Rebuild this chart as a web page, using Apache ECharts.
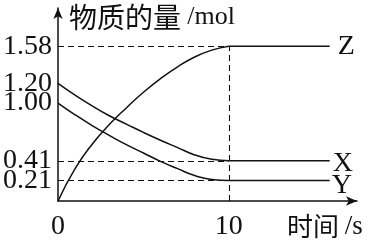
<!DOCTYPE html>
<html>
<head>
<meta charset="utf-8">
<script src="https://cdn.jsdelivr.net/npm/echarts@6/dist/echarts.min.js"></script>
<style>html,body{margin:0;padding:0;background:#fff}#c{width:368px;height:241px}</style>
</head>
<body>
<div id="c"></div>
<script>
// time (s) sample points during the reaction
var times = [0, 1, 2, 3, 4, 5, 6, 7, 8, 9, 10];
var zValues = [0, 0.33, 0.58, 0.78, 0.95, 1.11, 1.25, 1.37, 1.47, 1.54, 1.58];
var xValues = [1.20, 1.08, 0.97, 0.87, 0.785, 0.70, 0.62, 0.545, 0.47, 0.425, 0.41];
var yValues = [1.00, 0.88, 0.77, 0.67, 0.575, 0.49, 0.405, 0.33, 0.26, 0.22, 0.21];
// equilibrium segment (constant amounts)
var plateauTimes = [10, 15.9];
var yTickLabels = [0.21, 0.41, 1.00, 1.20, 1.58];
var xTickLabels = [0, 10];
var endTime = 10;

function pairs(ts, vals){ return ts.map(function(t,i){ return [t, vals[i]]; }); }

var ink = '#111';
var serif = 'Liberation Serif';
var cjk = 'Noto Sans CJK SC';
var dash = {type:[6,4], color: ink, width: 1.1};

var guideData = [
  [{coord:[0,1.58]},{coord:[endTime,1.58]}],
  [{coord:[0,0.41]},{coord:[endTime,0.41]}],
  [{coord:[0,0.21]},{coord:[endTime,0.21]}],
  [{coord:[endTime,0]},{coord:[endTime,1.58]}]
];

function curve(name, vals){
  return {type:'line', name:name, data:pairs(times, vals), smooth:0.5,
    symbol:'none', lineStyle:{color:ink, width:1.5}, silent:true};
}
function plateau(name, vals, dist, off){
  var v = vals[vals.length-1];
  return {
    type:'line', name:name+'-eq', data:pairs(plateauTimes, [v, v]),
    symbol:'none', lineStyle:{color:ink, width:1.5}, silent:true,
    endLabel:{show:true, formatter:name, distance:dist, offset:off,
      fontFamily:serif, fontSize:28, color:ink}
  };
}

// labels split over two overlaid left axes so close labels are not auto-hidden
var labelsA = yTickLabels.filter(function(v,i){ return i % 2 === 0; });
var labelsB = yTickLabels.filter(function(v,i){ return i % 2 === 1; });
var yLabelStyle = {showMinLabel:true, showMaxLabel:true, hideOverlap:false,
  margin:6, fontFamily:serif, fontSize:28, color:ink,
  formatter:function(v){ return v.toFixed(2); }};

var chart = echarts.init(document.getElementById('c'));
var s = [
  curve('Z', zValues), curve('X', xValues), curve('Y', yValues),
  plateau('Z', zValues, 8, [0,0]), plateau('X', xValues, 3, [0,3]), plateau('Y', yValues, 2, [0,5])
];
s[0].markLine = {silent:true, symbol:'none', label:{show:false}, lineStyle:dash, data:guideData, animation:false};
chart.setOption({
  animation:false,
  grid:{left:57, right:11, top:8, bottom:37},
  xAxis:{
    type:'value', min:0, max:17.5,
    axisLine:{lineStyle:{color:ink, width:1.5}, symbol:['none','arrow'], symbolSize:[7,11]},
    axisTick:{show:false}, splitLine:{show:false},
    axisLabel:{customValues:xTickLabels, showMinLabel:true, showMaxLabel:true, margin:12,
      fontFamily:serif, fontSize:28, color:ink},
    name:'{c|时间 }{l|/s}', nameLocation:'end', nameGap:-70,
    nameTextStyle:{align:'left', verticalAlign:'top', padding:[12,0,0,0],
      rich:{c:{fontFamily:cjk, fontSize:26, color:ink}, l:{fontFamily:serif, fontSize:27, color:ink}}}
  },
  yAxis:[{
    type:'value', min:0, max:1.97, position:'left',
    axisLine:{lineStyle:{color:ink, width:1.5}, symbol:['none','arrow'], symbolSize:[7,11]},
    axisTick:{show:false}, splitLine:{show:false},
    axisLabel:Object.assign({customValues:labelsA}, yLabelStyle),
    name:'{c|物质的量 }{l|/mol}', nameLocation:'end', nameGap:-9,
    nameTextStyle:{align:'left', verticalAlign:'middle', padding:[0,0,0,11],
      rich:{c:{fontFamily:cjk, fontSize:28, color:ink}, l:{fontFamily:serif, fontSize:26, color:ink}}}
  },{
    type:'value', min:0, max:1.97, position:'left', offset:0, alignTicks:false,
    axisLine:{show:false}, axisTick:{show:false}, splitLine:{show:false},
    axisLabel:Object.assign({customValues:labelsB}, yLabelStyle)
  }],
  series:s
});
</script>
</body>
</html>
